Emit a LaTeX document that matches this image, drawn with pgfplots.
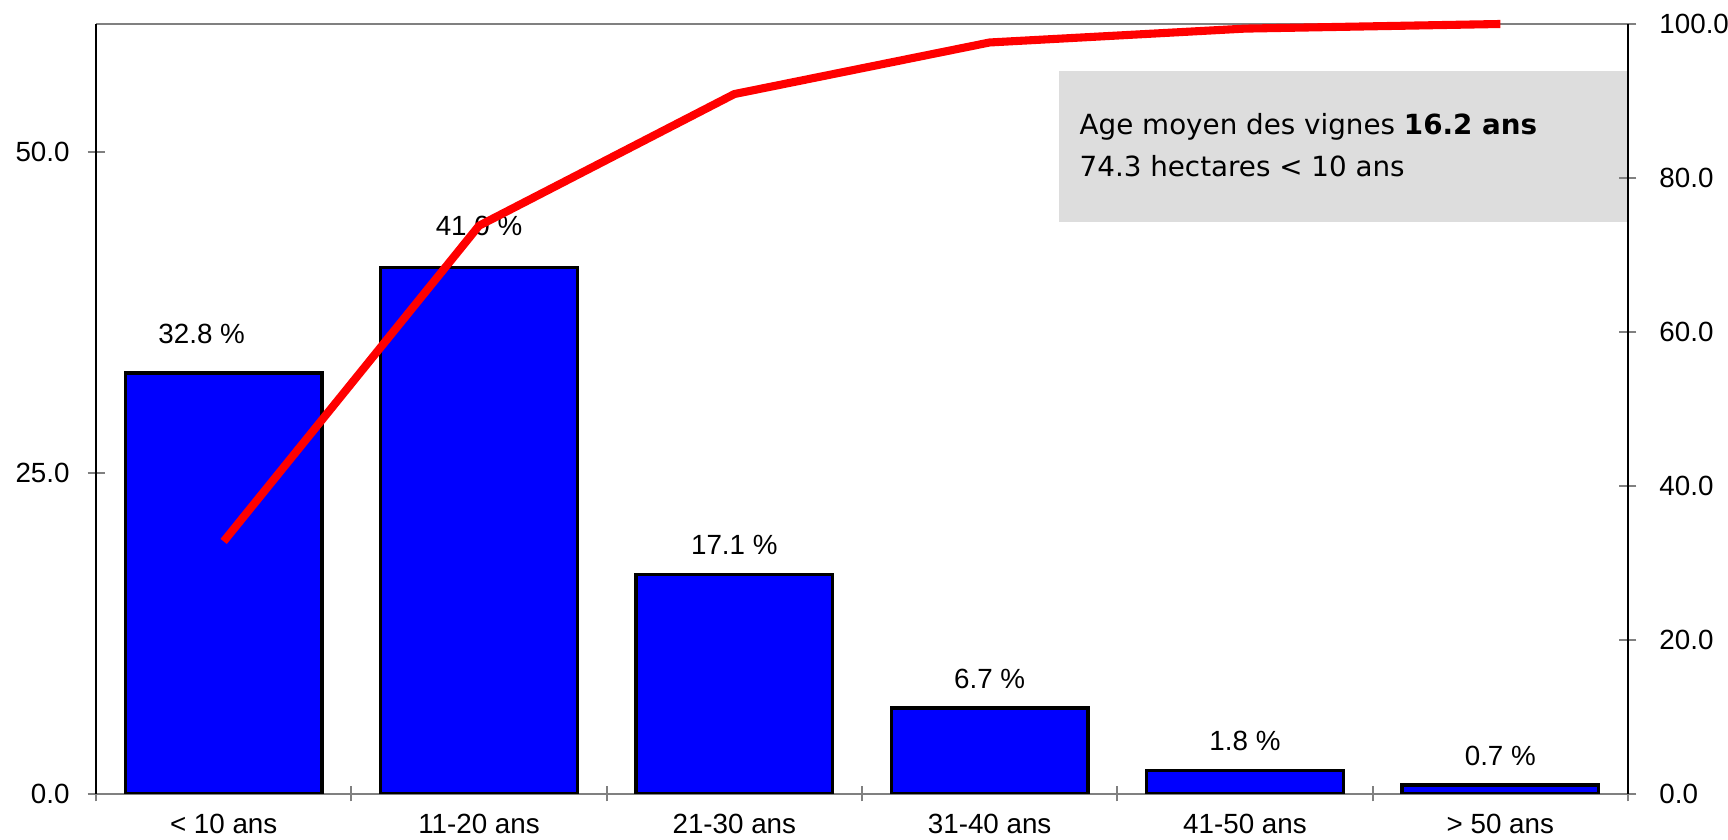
\documentclass[border=0pt]{standalone}
\usepackage{pgfplots}
\pgfplotsset{compat=1.18}
\usepackage{fontspec}
\setmainfont{Liberation Sans}
\newfontfamily\boxfont{DejaVu Sans}
\definecolor{barblue}{RGB}{0,0,255}
\definecolor{boxgray}{RGB}{221,221,221}
\definecolor{linered}{RGB}{255,0,0}
\pgfplotstableread{
x   y     dx     dy
0   32.8  -0.22  0.30
1   41.0  0      0.32
2   17.1  0      0.20
3   6.7   0      0.20
4   1.8   0      0.20
5   0.7   0      0.20
}\bardata
\begin{document}
\fontsize{7.9}{9.5}\selectfont
\begin{tikzpicture}
\path[use as bounding box] (-0.96,-0.46) rectangle (16.32,7.94);
\fill[boxgray] (9.63,5.72) rectangle (15.32,7.23);
\draw[gray, line width=0.6pt] (0,7.70) -- (15.32,7.70);
\begin{axis}[
  width=15.32cm, height=7.70cm, scale only axis,
  at={(0,0)}, anchor=south west,
  xmin=-0.5, xmax=5.5, ymin=0, ymax=60,
  axis x line*=bottom, axis y line*=left,
  x axis line style={gray, line width=0.6pt},
  y axis line style={black, line width=0.8pt},
  xtick={0,1,2,3,4,5},
  xticklabels={{< 10 ans},{11-20 ans},{21-30 ans},{31-40 ans},{41-50 ans},{> 50 ans}},
  minor xtick={-0.5,0.5,1.5,2.5,3.5,4.5,5.5},
  ytick={0,25,50},
  yticklabels={0.0,25.0,50.0},
  tick align=center,
  major tick length=0.17cm,
  minor tick length=0.15cm,
  tick style={gray, line width=0.6pt},
  major x tick style={draw=none},
  xticklabel style={anchor=base, yshift=-0.31cm},
  yticklabel style={xshift=-0.08cm},
  visualization depends on={\thisrow{dx} \as \labdx},
  visualization depends on={\thisrow{dy} \as \labdy},
  nodes near coords={\pgfmathprintnumber[fixed,fixed zerofill,precision=1,assume math mode=true]{\pgfplotspointmeta} \%},
  nodes near coords style={anchor=base, xshift=\labdx cm, yshift=\labdy cm, inner sep=0pt, text=black},
]
\addplot[ybar, bar width=0.77, fill=barblue, draw=black, line width=0.9pt]
  table[x=x, y=y] {\bardata};
\end{axis}
\begin{axis}[
  width=15.32cm, height=7.70cm, scale only axis,
  at={(0,0)}, anchor=south west,
  xmin=-0.5, xmax=5.5, ymin=0, ymax=100,
  axis x line=none, axis y line*=right,
  y axis line style={black, line width=0.8pt},
  xtick=\empty,
  ytick={0,20,40,60,80,100},
  yticklabels={0.0,20.0,40.0,60.0,80.0,100.0},
  tick align=center,
  major tick length=0.17cm,
  tick style={gray, line width=0.6pt},
  yticklabel style={anchor=west, xshift=0.13cm},
  clip=false,
]
\addplot[linered, line width=2.3pt, line join=round]
  coordinates {(0,32.8) (1,73.8) (2,90.9) (3,97.6) (4,99.4) (5,100.0)};
\end{axis}
\node[anchor=base west, inner sep=0pt, font=\boxfont\fontsize{7.9}{9.5}\selectfont] at (9.83,6.59) {Age moyen des vignes \textbf{16.2 ans}};
\node[anchor=base west, inner sep=0pt, font=\boxfont\fontsize{7.9}{9.5}\selectfont] at (9.83,6.17) {74.3 hectares < 10 ans};
\end{tikzpicture}
\end{document}
